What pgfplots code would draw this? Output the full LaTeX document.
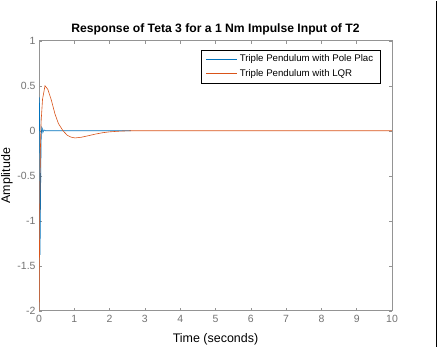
\documentclass[border=0pt]{standalone}
\usepackage{pgfplots}
\pgfplotsset{compat=1.18}
\usepackage{fontspec}
\setmainfont{Liberation Sans}
\definecolor{mblue}{rgb}{0,0.447,0.741}
\definecolor{morange}{rgb}{0.85,0.325,0.098}
\definecolor{axgray}{rgb}{0.58,0.58,0.58}
\definecolor{lblgray}{rgb}{0.45,0.45,0.45}
\begin{document}
\begin{tikzpicture}[x=1bp,y=1bp]
\path[fill=white] (0,0) rectangle (438,346);
\begin{axis}[
  scale only axis, width=353bp, height=270bp,
  at={(39bp,36bp)}, anchor=south west,
  xmin=0, xmax=10, ymin=-2, ymax=1,
  xtick={0,1,...,10}, ytick={-2,-1.5,-1,-0.5,0,0.5,1},
  yticklabels={-2,-1.5,-1,-0.5,0,0.5,1},
  tick align=inside, tick pos=both,
  major tick length=3bp,
  axis line style={axgray, line width=0.6pt},
  every tick/.style={axgray, line width=0.5pt},
  tick label style={font=\fontsize{10.5}{12}\selectfont, text=lblgray},
  xticklabel style={yshift=-1bp},
  /pgf/number format/assume math mode=true,
  xlabel={Time (seconds)}, ylabel={Amplitude},
  xlabel style={font=\fontsize{12.5}{14}\selectfont, inner sep=0pt, yshift=-7bp},
  ylabel style={font=\fontsize{12.5}{14}\selectfont, at={(axis description cs:0,0.5)},
    anchor=center, inner sep=0pt, yshift=32bp},
  title={Response of Teta 3 for a 1 Nm Impulse Input of T2},
  title style={font=\fontsize{12.2}{14}\selectfont\bfseries, yshift=-4bp},
  legend style={at={(0.967,0.967)}, anchor=north east,
    font=\fontsize{9.7}{11}\selectfont, inner xsep=5bp, inner ysep=3bp, row sep=2bp,
    cells={anchor=west}},
  clip=true,
]
\addlegendimage{legend image code/.code={\draw[draw=mblue, line width=0.7pt] (0bp,0bp) -- (31bp,0bp);}}
\addlegendentry{Triple Pendulum with Pole Plac}
\addlegendimage{legend image code/.code={\draw[draw=morange, line width=0.7pt] (0bp,0bp) -- (31bp,0bp);}}
\addlegendentry{Triple Pendulum with LQR}
\addplot[color=mblue, line width=0.6pt, forget plot] coordinates {
 (0,0) (0.01,0.37) (0.02,0.15) (0.03,-1.38) (0.045,-0.7) (0.06,-0.12) (0.075,0.04)
 (0.09,0.03) (0.11,-0.02) (0.14,0.01) (0.18,0) (0.3,0) (1,0) (2,0) (2.6,0)
};
\addplot[color=morange, line width=0.6pt, forget plot] coordinates {
 (0,-2.3) (0.01,-1.6) (0.02,-0.9) (0.04,-0.2) (0.06,0.1) (0.1,0.35) (0.17,0.5) (0.25,0.46)
 (0.35,0.34) (0.45,0.19) (0.55,0.08) (0.68,0) (0.8,-0.05) (0.9,-0.07) (1.02,-0.08)
 (1.2,-0.072) (1.4,-0.055) (1.6,-0.037) (1.8,-0.022) (2.0,-0.012) (2.3,-0.004)
 (2.6,0) (4,0) (10,0)
};
\end{axis}
\draw[black, line width=1.5bp] (436.5,0) -- (436.5,346);
\end{tikzpicture}
\end{document}
